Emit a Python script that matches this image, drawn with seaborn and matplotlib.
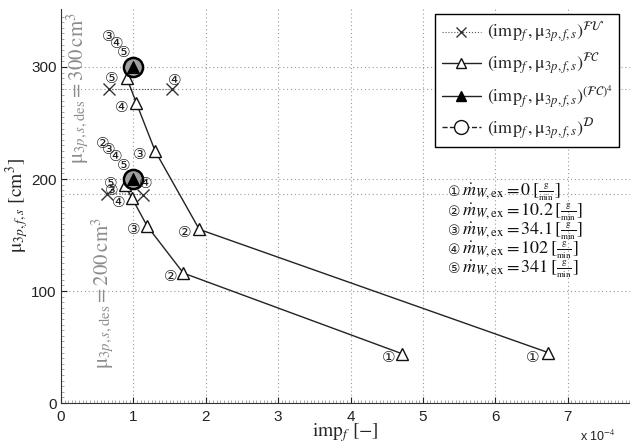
import matplotlib
matplotlib.use("Agg")
import matplotlib.pyplot as plt
from matplotlib.lines import Line2D
import seaborn as sns
import numpy as np

# ---- data ----
fc300_x = [0.91, 1.04, 1.30, 1.91, 6.73]
fc300_y = [290, 268, 225, 155, 45]
fc200_x = [0.88, 0.98, 1.19, 1.69, 4.71]
fc200_y = [195, 183, 158, 116, 44]
fu300_x = [0.66, 1.53]
fu300_y = [280, 280]
fu200_x = [0.64, 1.13]
fu200_y = [187, 186]
fc4_x = [1.0, 1.0]
fc4_y = [300, 200]
d_x = [1.0, 1.0]
d_y = [300, 200]
num_labels = ["③", "④", "⑤", "⑤", "④", "④", "③", "②", "③", "④", "⑤", "⑤", "③", "④", "④",
              "③", "②", "②", "①", "①"]
num_x = [0.66, 0.77, 0.86, 0.70, 1.57, 0.84, 1.08, 0.58, 0.66, 0.76, 0.86, 0.69, 0.70, 1.17, 0.79,
         1.01, 1.71, 1.51, 6.52, 4.52]
num_y = [327, 321, 313, 290, 288, 264, 222, 232, 226, 220, 212, 196, 190, 196, 179,
         155, 152, 113, 41, 41]
mdot_labels = ["①", "②", "③", "④", "⑤"]
mdot_values = ["0", "10.2", "34.1", "102", "341"]
xticks = [0, 1, 2, 3, 4, 5, 6, 7]
yticks = [0, 100, 200, 300]

sns.set_theme(style="white")
plt.rcParams["font.family"] = ["Liberation Sans", "DejaVu Sans", "Noto Sans CJK JP"]
plt.rcParams["mathtext.fontset"] = "stix"

W, H = 630, 444
fig = plt.figure(figsize=(W / 100, H / 100), dpi=100)
x0, x1, y0, y1 = 61, 630, 403, 9
ax = fig.add_axes([x0 / W, 1 - y0 / H, (x1 - x0) / W, (y0 - y1) / H])
ax.set_xlim(0, (x1 - x0) / 72.4)
ax.set_ylim(0, (y0 - y1) / 1.12)

gridkw = dict(color="#9a9a9a", lw=0.8, ls=(0, (1, 2.5)), zorder=0)
for xv in xticks[1:]:
    ax.axvline(xv, **gridkw)
for yv in yticks[1:]:
    ax.axhline(yv, **gridkw)
for yv in [fu300_y[0], fu200_y[0]]:
    ax.axhline(yv, **gridkw)

# FU
for xs, ys in [(fu300_x, fu300_y), (fu200_x, fu200_y)]:
    sns.lineplot(x=xs, y=ys, sort=False, estimator=None, ax=ax, color="#555555", lw=0.8,
                 linestyle=":", marker="x", markersize=9, markeredgewidth=1.0,
                 markeredgecolor="#333333", legend=False, zorder=3)
# FC
for xs, ys in [(fc300_x, fc300_y), (fc200_x, fc200_y)]:
    sns.lineplot(x=xs, y=ys, sort=False, estimator=None, ax=ax, color="#222222", lw=1.0,
                 marker="^", markersize=8, markerfacecolor="white", markeredgecolor="#111111",
                 markeredgewidth=1.0, legend=False, zorder=4)
# D circles
sns.scatterplot(x=d_x, y=d_y, ax=ax, marker="o", s=190, facecolor="#a0a0a0", edgecolor="black",
                linewidth=1.8, legend=False, zorder=5)
# FC4 filled triangles
sns.scatterplot(x=fc4_x, y=fc4_y, ax=ax, marker="^", s=75, color="black", edgecolor="black",
                legend=False, zorder=6)

# circled numbers
for lab, xv, yv in zip(num_labels, num_x, num_y):
    ax.text(xv, yv, lab, ha="center", va="center", fontsize=11, color="#222222",
            family=["DejaVu Sans", "Noto Sans CJK JP"], zorder=7)

# grey design annotations
grey = "#8c8c8c"
ax.text((78 - x0) / 72.4, (y0 - 88) / 1.12, r"$\mathrm{μ}_{3p,s,\mathrm{des}}=300\,\mathrm{cm}^3$",
        rotation=90, ha="center", va="center", fontsize=15, color=grey, zorder=2)
ax.text((103 - x0) / 72.4, (y0 - 293) / 1.12, r"$\mathrm{μ}_{3p,s,\mathrm{des}}=200\,\mathrm{cm}^3$",
        rotation=90, ha="center", va="center", fontsize=15, color=grey, zorder=2)

# spines / ticks
for s in ["top", "right"]:
    ax.spines[s].set_visible(False)
for s in ["left", "bottom"]:
    ax.spines[s].set_color("#333333")
    ax.spines[s].set_linewidth(0.8)
ax.set_xticks(xticks)
ax.set_yticks(yticks)
ax.set_xticks(np.arange(0, 7.9, 0.05), minor=True)
ax.set_yticks(np.arange(0, 350, 5), minor=True)
ax.tick_params(which="major", direction="in", length=4, width=0.8, labelsize=11,
               colors="#222222", left=True, bottom=True)
ax.tick_params(which="minor", direction="in", length=2, width=0.4, color="#666666",
               left=True, bottom=True)
ax.tick_params(axis="x", pad=5)
ax.tick_params(axis="y", pad=3)

ax.set_xlabel(r"$\mathrm{imp}_f\ [-]$", fontsize=14)
ax.xaxis.set_label_coords(0.5, (y0 - 421) / (y0 - y1))
ax.set_ylabel(r"$\mathrm{μ}_{3p,f,s}\ [\mathrm{cm}^3]$", fontsize=14)
ax.yaxis.set_label_coords((31 - x0) / (x1 - x0), 0.5)
fig.text(598 / W, 1 - 436 / H, r"x 10$^{-4}$", ha="center", va="center", fontsize=9,
         color="#222222")

# legend
handles = [
    Line2D([], [], color="#555555", ls=":", lw=0.8, marker="x", ms=7, mec="#333333"),
    Line2D([], [], color="#222222", ls="-", lw=1.0, marker="^", ms=7, mfc="white", mec="#111111"),
    Line2D([], [], color="#222222", ls="-", lw=1.0, marker="^", ms=7, mfc="black", mec="black"),
    Line2D([], [], color="#222222", ls="--", lw=1.0, marker="o", ms=10, mfc="white", mec="#111111"),
]
labels = [
    r"$(\mathrm{imp}_f\,,\mathrm{μ}_{3p,f,s})^{\mathcal{FU}}$",
    r"$(\mathrm{imp}_f\,,\mathrm{μ}_{3p,f,s})^{\mathcal{FC}}$",
    r"$(\mathrm{imp}_f\,,\mathrm{μ}_{3p,f,s})^{(\mathcal{FC})^4}$",
    r"$(\mathrm{imp}_f\,,\mathrm{μ}_{3p,f,s})^{\mathcal{D}}$",
]
leg = ax.legend(handles, labels, loc="upper right", bbox_to_anchor=(619 / W, 1 - 14 / H),
                bbox_transform=fig.transFigure, fontsize=13, frameon=True, fancybox=False,
                handlelength=2.2, handletextpad=0.3, labelspacing=0.35, borderpad=0.35,
                borderaxespad=0)
leg.get_frame().set_edgecolor("black")
leg.get_frame().set_linewidth(1.0)
leg.get_frame().set_alpha(1)

# mass flow labels
mdot_y = [192, 212, 231, 250, 269]
for lab, val, yp in zip(mdot_labels, mdot_values, mdot_y):
    fig.text(448 / W, 1 - yp / H, lab, ha="left", va="center", fontsize=10,
             family=["DejaVu Sans", "Noto Sans CJK JP"], color="#222222")
    fig.text(462 / W, 1 - yp / H,
             r"$\dot{m}_{W,\mathrm{ex}}=" + val
             + r"\,[\genfrac{}{}{0.5}{2}{\mathrm{g}}{\mathrm{min}}]$",
             ha="left", va="center", fontsize=13, color="#111111")

fig.savefig("out.png", dpi=100)
